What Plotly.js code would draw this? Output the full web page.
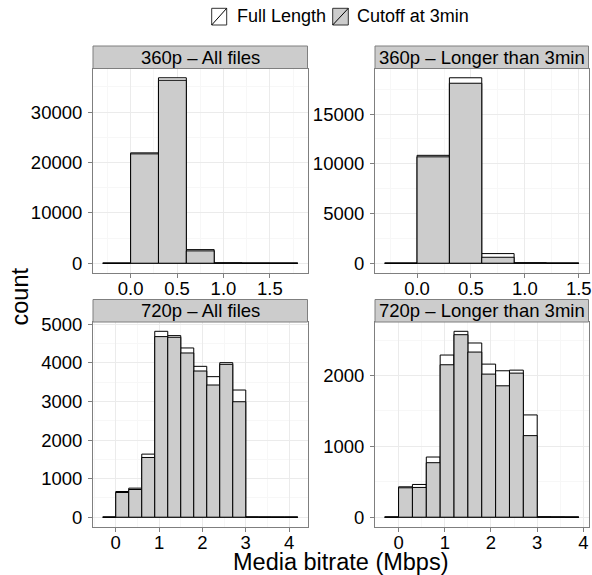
<!DOCTYPE html>
<html><head><meta charset="utf-8">
<script src="https://cdn.plot.ly/plotly-3.0.1.min.js"></script>
<style>html,body{margin:0;padding:0;background:#fff}#chart{width:592px;height:575px}</style>
</head><body><div id="chart"></div>
<script>
// ---- data (bin centres in Mbps, counts) ----
const binWidth = 0.3;
const seriesNames = ["Full Length", "Cutoff at 3min"];
const panelTitles = ["360p – All files", "360p – Longer than 3min", "720p – All files", "720p – Longer than 3min"];

const bins360All = [-0.15, 0.15, 0.45, 0.75, 1.05, 1.35, 1.65];
const full360All = [2, 21900, 36800, 2700, 60, 15, 5];
const cut360All  = [2, 21700, 36300, 2450, 40, 10, 3];

const bins360Long = [-0.15, 0.15, 0.45, 0.75, 1.05, 1.35];
const full360Long = [2, 10850, 18650, 970, 40, 5];
const cut360Long  = [2, 10700, 18100, 600, 25, 3];

const bins720All = [-0.15, 0.15, 0.45, 0.75, 1.05, 1.35, 1.65, 1.95, 2.25, 2.55, 2.85, 3.15, 3.45, 3.75, 4.05];
const full720All = [2, 666, 753, 1635, 4818, 4706, 4386, 3910, 3642, 4005, 3296, 5, 3, 2, 2];
const cut720All  = [2, 640, 718, 1548, 4680, 4663, 4256, 3789, 3426, 3962, 2993, 3, 2, 1, 1];

const bins720Long = [-0.15, 0.15, 0.45, 0.75, 1.05, 1.35, 1.65, 1.95, 2.25, 2.55, 2.85, 3.15, 3.45, 3.75];
const full720Long = [2, 429, 462, 849, 2288, 2623, 2458, 2160, 2066, 2075, 1443, 5, 3, 2];
const cut720Long  = [2, 415, 420, 769, 2151, 2575, 2330, 2019, 1854, 2033, 1151, 3, 2, 1];

const xTickStep = [0.5, 0.5, 1, 1];
const xTickFmt  = [".1f", ".1f", "d", "d"];
const yTickStep = [10000, 5000, 1000, 1000];

// ---- layout geometry (pixels) ----
const W = 592, H = 575;
const colX = [[93, 307.5], [375, 588.5]];
const rowY = [[68.5, 272.5], [322, 526.5]];
const stripH = 22.5;
const FONT = '"Liberation Sans", Arial, Helvetica, sans-serif';
const tickSize = 18.5;

const panels = [
  {bins: bins360All, full: full360All, cut: cut360All},
  {bins: bins360Long, full: full360Long, cut: cut360Long},
  {bins: bins720All, full: full720All, cut: cut720All},
  {bins: bins720Long, full: full720Long, cut: cut720Long}
];

const px = v => v / W;
const py = v => 1 - v / H;

const traces = [];
const layout = {
  width: W, height: H,
  margin: {l: 0, r: 0, t: 0, b: 0},
  paper_bgcolor: "#fff", plot_bgcolor: "#fff",
  barmode: "overlay", bargap: 0,
  showlegend: false,
  font: {family: FONT, color: "#000", size: tickSize},
  shapes: [], annotations: []
};

panels.forEach((p, i) => {
  const sfx = i === 0 ? "" : String(i + 1);
  const col = i % 2, row = Math.floor(i / 2);
  const xa = "x" + sfx, ya = "y" + sfx;
  [[p.full, "#FFFFFF", seriesNames[0]], [p.cut, "#CCCCCC", seriesNames[1]]].forEach(([vals, fill, name]) => {
    traces.push({
      type: "bar", x: p.bins, y: vals, width: binWidth, name: name,
      xaxis: xa, yaxis: ya,
      marker: {color: fill, line: {color: "#000", width: 1}},
      hoverinfo: "x+y+name"
    });
  });
  const lo = Math.min(...p.bins) - binWidth / 2, hi = Math.max(...p.bins) + binWidth / 2;
  const padX = (hi - lo) * 0.05;
  const ymax = Math.max(...p.full);
  const common = {
    showline: true, mirror: true, linecolor: "#7F7F7F", linewidth: 1,
    ticks: "outside", ticklen: 4, tickwidth: 1, tickcolor: "#7F7F7F",
    showgrid: true, gridcolor: "#EBEBEB", gridwidth: 1,
    zeroline: false, automargin: false, fixedrange: true,
    tickfont: {family: FONT, size: tickSize, color: "#000"}
  };
  layout["xaxis" + sfx] = Object.assign({}, common, {
    domain: [px(colX[col][0]), px(colX[col][1])],
    anchor: ya, range: [lo - padX, hi + padX],
    tick0: 0, dtick: xTickStep[i], tickformat: xTickFmt[i],
    minor: {dtick: xTickStep[i] / 2, tick0: 0, showgrid: true, gridcolor: "#F7F7F7", ticks: ""},
    ticklabelstandoff: -5
  });
  layout["yaxis" + sfx] = Object.assign({}, common, {
    domain: [py(rowY[row][1]), py(rowY[row][0])],
    anchor: xa, range: [-0.05 * ymax, 1.05 * ymax],
    tick0: 0, dtick: yTickStep[i], tickformat: "d",
    minor: {dtick: yTickStep[i] / 2, tick0: 0, showgrid: true, gridcolor: "#F7F7F7", ticks: ""},
    ticklabelstandoff: 2
  });
  // strip
  layout.shapes.push({
    type: "rect", xref: "paper", yref: "paper", layer: "above",
    x0: px(colX[col][0]), x1: px(colX[col][1]),
    y0: py(rowY[row][0]), y1: py(rowY[row][0] - stripH),
    fillcolor: "#CCCCCC", line: {color: "#7F7F7F", width: 1}
  });
  layout.annotations.push({
    xref: "paper", yref: "paper", showarrow: false,
    x: px((colX[col][0] + colX[col][1]) / 2), y: py(rowY[row][0] - stripH / 2),
    xanchor: "center", yanchor: "middle",
    text: panelTitles[i], font: {family: FONT, size: tickSize, color: "#000"}
  });
});

// axis titles
layout.annotations.push({
  xref: "paper", yref: "paper", showarrow: false,
  x: px(341), y: py(561.5), xanchor: "center", yanchor: "middle",
  text: "Media bitrate (Mbps)", font: {family: FONT, size: 23.5, color: "#000"}
});
layout.annotations.push({
  xref: "paper", yref: "paper", showarrow: false, textangle: -90,
  x: px(19), y: py(296.5), xanchor: "center", yanchor: "middle",
  text: "count", font: {family: FONT, size: 23.5, color: "#000"}
});

// legend (drawn as keys + labels)
const legendKeys = [
  {x0: 211.7, x1: 226.7, fill: "#FFFFFF", labelX: 235},
  {x0: 332.7, x1: 348.3, fill: "#CCCCCC", labelX: 355}
];
legendKeys.forEach((k, j) => {
  layout.shapes.push({
    type: "rect", xref: "paper", yref: "paper",
    x0: px(k.x0), x1: px(k.x1), y0: py(25), y1: py(8.3),
    fillcolor: k.fill, line: {color: "#333", width: 1}
  });
  layout.shapes.push({
    type: "line", xref: "paper", yref: "paper",
    x0: px(k.x0), x1: px(k.x1), y0: py(25), y1: py(8.3),
    line: {color: "#000", width: 1}
  });
  layout.annotations.push({
    xref: "paper", yref: "paper", showarrow: false,
    x: px(k.labelX), y: py(16.5), xanchor: "left", yanchor: "middle",
    text: seriesNames[j], font: {family: FONT, size: 18, color: "#000"}
  });
});

Plotly.newPlot("chart", traces, layout, {displayModeBar: false, staticPlot: true});
</script>
</body></html>
